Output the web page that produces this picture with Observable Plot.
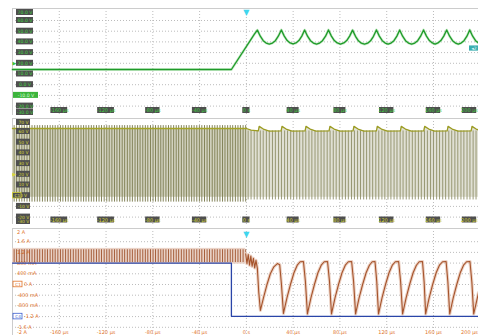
<!DOCTYPE html>
<html><head><meta charset="utf-8">
<script src="https://cdn.jsdelivr.net/npm/d3@7"></script>
<script src="https://cdn.jsdelivr.net/npm/@observablehq/plot@0.6"></script>
<style>
html,body{margin:0;padding:0;background:#fff;}
#wrap{position:relative;width:478px;height:335px;overflow:hidden;background:#fff;}
</style></head><body><div id="wrap"></div>
<script>
// ---------------- DATA ----------------
const xTicks = [-160, -120, -80, -40, 0, 40, 80, 120, 160, 200];
const xTickLabels = ["-160 µs","-120 µs","-80 µs","-40 µs","0 s","40 µs","80 µs","120 µs","160 µs","200 µs"];
const triggerTime = [0];

const vTicks1 = [70,60,50,40,30,20,10,0,-10,-20,-30];
const vLabels1 = ["70.0 V","60.0 V","50.0 V","40.0 V","30.0 V","20.0 V","10.0 V","0.0 V","-10.0 V","-20.0 V","-30.0 V"];
const vTicks2 = [70,60,50,40,30,20,10,0,-10,-20,-30];
const vLabels2 = ["70 V","60 V","50 V","40 V","30 V","20 V","10 V","0 V","-10 V","-20 V","-30 V"];
const iTicks = [2,1.6,1.2,0.8,0.4,0,-0.4,-0.8,-1.2,-1.6,-2];
const iLabels = ["2 A","1.6 A","1.2 A","800 mA","400 mA","0 A","-400 mA","-800 mA","-1.2 A","-1.6 A","-2 A"];

const offsetMarkV = [20];
const chMarksMid = [{ch:"C1", v:0}];
const chMarksBot = [{ch:"C1", v:0, color:"#e2742a"}, {ch:"C4", v:-1.2, color:"#3d5fd0"}];
const refMarkTop = [{t:196, v:33.8}];

// top channel: voltage (V) vs time (µs)
const greenTrace = [
[-200,14.2],[-12.8,14.2],[7.0,47.5],[9.4,51.0],
[11.9,45.3],[14.4,41.1],[16.9,38.9],[19.6,38.0],[22.3,38.9],[24.8,41.1],[27.3,45.3],[29.9,51.2],
[32.4,45.4],[34.9,41.2],[37.4,39.0],[39.9,38.1],[42.4,39.0],[44.9,41.2],[47.4,45.4],[49.8,51.1],
[52.3,45.3],[54.8,41.1],[57.3,38.9],[60.0,37.9],[62.6,38.9],[65.1,41.1],[67.7,45.3],[70.2,51.2],
[72.7,45.4],[75.2,41.2],[77.7,39.0],[80.5,38.0],[83.3,39.0],[85.8,41.2],[88.3,45.4],[90.8,51.0],
[93.3,45.2],[95.8,41.0],[98.3,38.8],[101.0,37.9],[103.7,38.8],[106.2,41.0],[108.7,45.2],[111.2,51.2],
[113.7,45.4],[116.2,41.1],[118.7,38.9],[121.2,38.0],[123.7,38.9],[126.2,41.1],[128.7,45.4],[131.1,51.1],
[133.6,45.3],[136.1,41.1],[138.6,38.9],[141.3,37.9],[144.0,38.9],[146.5,41.1],[149.0,45.3],[151.5,51.2],
[154.0,45.4],[156.5,41.2],[159.0,39.0],[161.4,38.0],[163.8,39.0],[166.3,41.2],[168.8,45.4],[171.3,51.1],
[173.8,45.3],[176.3,41.1],[178.8,38.9],[181.2,37.9],[183.6,38.9],[186.1,41.1],[188.6,45.3],[191.0,51.2],
[193.5,45.3],[196.0,41.1],[198.5,38.9]
];

// middle channel: switching edges (µs) and top level (V)
const pulsesL = [-198.6,-196.5,-194.2,-192.0,-189.9,-187.6,-185.4,-183.3,-181.0,-178.8,-176.7,-174.4,-172.2,-170.1,-167.8,-165.6,-163.5,-161.2,-159.0,-156.9,-154.6,-152.4,-150.3,-148.0,-145.8,-143.7,-141.4,-139.2,-137.1,-134.8,-132.6,-130.5,-128.2,-126.0,-123.9,-121.6,-119.4,-117.3,-115.0,-112.8,-110.7,-108.4,-106.2,-104.1,-101.8,-99.6,-97.5,-95.2,-93.0,-90.9,-88.6,-86.4,-84.3,-82.0,-79.8,-77.7,-75.4,-73.2,-71.1,-68.8,-66.6,-64.5,-62.2,-60.0,-57.9,-55.6,-53.4,-51.3,-49.0,-46.8,-44.7,-42.4,-40.2,-38.1,-35.8,-33.6,-31.5,-29.2,-27.0,-24.9,-22.6,-20.4,-18.3,-16.0,-13.8,-11.7,-9.4,-7.2,-5.1,-2.8,-0.6];
const pulsesR = [1.5,4.0,6.7,9.2,11.9,14.4,17.1,19.6,22.3,24.8,27.5,30.0,32.7,35.2,37.9,40.4,43.1,45.6,48.3,50.8,53.5,56.0,58.7,61.2,63.9,66.4,69.1,71.6,74.3,76.8,79.5,82.0,84.7,87.2,89.9,92.4,95.1,97.6,100.3,102.8,105.5,108.0,110.7,113.2,115.9,118.4,121.1,123.6,126.3,128.8,131.5,134.0,136.7,139.2,141.9,144.4,147.1,149.6,152.3,154.8,157.5,160.0,162.7,165.2,167.9,170.4,173.1,175.6,178.3,180.8,183.5,186.0,188.7,191.2,193.9,196.4];
const midTopLeft = [[-200,62.8],[0,62.8]];
const midTopRight = [[0,62.8],[4,61.2],[10.2,60.6],[11,64.8],[14.5,62.3],[19.5,60.4],[29.7,60.6],[30.5,64.8],[34,62.3],[39,60.4],[50.2,60.6],[51,64.8],[54.5,62.3],[59.5,60.4],[70.7,60.6],[71.5,64.8],[75,62.3],[80,60.4],[91.2,60.6],[92,64.8],[95.5,62.3],[100.5,60.4],[111.2,60.6],[112,64.8],[115.5,62.3],[120.5,60.4],[131.7,60.6],[132.5,64.8],[136,62.3],[141,60.4],[151.7,60.6],[152.5,64.8],[156,62.3],[161,60.4],[171.7,60.6],[172.5,64.8],[176,62.3],[181,60.4],[192.2,60.6],[193,64.8],[196.5,62.3],[198.5,61.5]];

// bottom: current (A)
const brownPost = [
[-0.6,1.15],[0.5,0.78],[1.6,1.12],[2.7,0.72],[3.8,1.06],[4.9,0.68],[6.0,0.98],[7.1,0.62],[8.2,0.9],[9.4,0.6],[10.6,-0.3],[12.0,-0.97],
[14.5,-0.52],[17.5,-0.02],[20.5,0.4],[23.5,0.66],[26.5,0.78],[28.5,0.74],[30.0,0.0],[31.7,-1.08],
[34.7,-0.5],[37.7,0.0],[40.7,0.44],[43.5,0.72],[46.0,0.85],[48.8,0.86],[50.5,0.1],[52.2,-1.1],
[55.2,-0.5],[58.2,0.0],[61.2,0.44],[64.0,0.72],[66.6,0.85],[69.4,0.86],[71.1,0.1],[72.8,-1.1],
[75.8,-0.5],[78.8,0.0],[81.8,0.44],[84.6,0.72],[87.2,0.85],[90.0,0.86],[91.7,0.1],[93.4,-1.1],
[96.4,-0.5],[99.4,0.0],[102.4,0.44],[105.2,0.72],[107.6,0.85],[110.0,0.86],[111.5,0.1],[113.0,-1.1],
[116.0,-0.5],[119.0,0.0],[122.0,0.44],[124.8,0.72],[127.4,0.85],[130.2,0.86],[131.9,0.1],[133.6,-1.1],
[136.6,-0.5],[139.6,0.0],[142.6,0.44],[145.4,0.72],[147.8,0.85],[150.6,0.86],[152.0,0.1],[153.3,-1.1],
[156.3,-0.5],[159.3,0.0],[162.3,0.44],[165.1,0.72],[167.8,0.85],[170.8,0.86],[172.3,0.1],[173.9,-1.1],
[176.9,-0.5],[179.9,0.0],[182.9,0.44],[185.7,0.72],[188.3,0.85],[191.2,0.86],[192.8,0.1],[194.4,-1.1],
[197.0,-0.6],[198.5,-0.3]
];
const rippleLo = 0.82, rippleHi = 1.3;
const blueTrace = [[-200,0.8],[-12.8,0.8],[-12.8,-1.19],[198.5,-1.19]];

// ---------------- DRAWING ----------------
const wrap = document.getElementById("wrap");
const XD = [-200, 198.5], W = 478, ML = 12;
const sx = d3.scaleLinear().domain(XD).range([ML, W]);
const tx = px => sx.invert(px);
const FONT = "DejaVu Sans, sans-serif";

function panel(o) {
  const sy = d3.scaleLinear().domain(o.yDomain).range([o.height, 0]);
  const pv = py => sy.invert(py);
  const per = (o.yDomain[1] - o.yDomain[0]) / o.height;
  const clampPy = py => Math.max(4, Math.min(o.height - 3, py));
  const gridVals = o.ticks.filter(v => sy(v) > 5 && sy(v) < o.height - 1);
  const yl = o.ticks.map((v, i) => ({v: pv(clampPy(sy(v))), text: o.tickLabels[i], raw: v}));
  const xl = xTicks.map((t, i) => ({t: Math.min(t, tx(W - 9)), text: xTickLabels[i]}));
  const ctx = {sy, pv, per, yl, xl};
  const marks = [
    Plot.ruleY(gridVals, {stroke: "#bcbcbc", strokeDasharray: "1,2"}),
    Plot.ruleX(xTicks.filter(t => t < XD[1]), {stroke: "#bcbcbc", strokeDasharray: "1,2"}),
    Plot.ruleY([o.yDomain[1]], {stroke: "#cccccc"}),
    Plot.ruleX([XD[0]], {stroke: "#cccccc"}),
    ...o.marks(ctx)
  ];
  const svg = Plot.plot({
    width: W, height: o.height,
    marginLeft: ML, marginRight: 0, marginTop: 0, marginBottom: 0,
    x: {domain: XD, axis: null},
    y: {domain: o.yDomain, axis: null},
    style: {background: "transparent", overflow: "visible", fontFamily: FONT},
    marks
  });
  svg.style.position = "absolute";
  svg.style.left = "0px";
  svg.style.top = o.top + "px";
  wrap.appendChild(svg);
}

function boxedX(ctx, pyC, boxFill, textFill) {
  const {pv, per, xl} = ctx;
  return [
    Plot.rect(xl, {x1: d => d.t - d.text.length * 1.2 / 1.1694, x2: d => d.t + d.text.length * 1.2 / 1.1694,
      y1: () => pv(pyC + 3), y2: () => pv(pyC - 3), fill: boxFill}),
    Plot.text(xl, {x: "t", y: () => pv(pyC), text: "text", fill: textFill, fontSize: 5, fontFamily: FONT})
  ];
}

// Top panel
panel({
  top: 8, height: 107, yDomain: [-28.79, 71.21], ticks: vTicks1, tickLabels: vLabels1,
  marks: ({pv, per, yl, xl}) => [
    Plot.line(greenTrace, {x: d => d[0], y: d => d[1], stroke: "#8fd88f", strokeWidth: 2.6, strokeOpacity: 0.5}),
    Plot.line(greenTrace, {x: d => d[0], y: d => d[1], stroke: "#1f9a2a", strokeWidth: 1.3}),
    Plot.rect(yl.filter(d => d.raw !== -10), {x1: () => tx(16), x2: () => tx(33), y1: d => d.v - 3 * per, y2: d => d.v + 3 * per, fill: "#4f4f4f"}),
    Plot.text(yl.filter(d => d.raw !== -10), {x: () => tx(24.5), y: "v", text: "text", fill: "#3fd03f", fontSize: 4.6, fontFamily: FONT}),
    Plot.rect(yl.filter(d => d.raw === -10), {x1: () => tx(13), x2: () => tx(38), y1: d => d.v - 3 * per, y2: d => d.v + 3 * per, fill: "#3cb43c"}),
    Plot.text(yl.filter(d => d.raw === -10), {x: () => tx(25.5), y: "v", text: "text", fill: "#d8ffd8", fontSize: 4.6, fontFamily: FONT}),
    Plot.text(offsetMarkV, {x: () => tx(14), y: d => d, text: () => "▶", fill: "#3cc43c", fontSize: 5}),
    ...boxedX({pv, per, xl}, 102, "#4f4f4f", "#3fd03f"),
    Plot.rect(refMarkTop, {x1: () => tx(469), x2: () => tx(478), y1: d => d.v - 2.6 * per, y2: d => d.v + 2.6 * per, fill: "#3aaeb0"}),
    Plot.text(refMarkTop, {x: () => tx(473.5), y: "v", text: () => "◂2", fill: "#e8ffff", fontSize: 4.5}),
    Plot.text(triggerTime, {x: d => d, y: () => pv(4), text: () => "▼", fill: "#3fd6ee", fontSize: 8})
  ]
});

// Middle panel
panel({
  top: 118, height: 106, yDomain: [-26.92, 72.15], ticks: vTicks2, tickLabels: vLabels2,
  marks: ({pv, per, yl, xl}) => [
    Plot.areaY(midTopLeft, {x: d => d[0], y1: () => -1.5, y2: d => d[1], fill: "#d2d2bf"}),
    Plot.areaY(midTopRight, {x: d => d[0], y1: () => -1.5, y2: d => d[1], fill: "#e0e0d4"}),
    Plot.ruleX(pulsesL, {x: d => d, y1: () => -6, y2: () => 65.5, stroke: "#84845a", strokeWidth: 1}),
    Plot.ruleX(pulsesR, {x: d => d, y1: () => -4, y2: () => 60.5, stroke: "#8e8e68", strokeWidth: 0.9}),
    Plot.line(midTopLeft, {x: d => d[0], y: d => d[1], stroke: "#a4a428", strokeWidth: 1.4}),
    Plot.line(midTopRight, {x: d => d[0], y: d => d[1], stroke: "#9c9c22", strokeWidth: 1.3}),
    Plot.rect(yl, {x1: () => tx(16), x2: () => tx(30), y1: d => d.v - 3 * per, y2: d => d.v + 3 * per, fill: "#4f4f4f"}),
    Plot.text(yl, {x: () => tx(23), y: "v", text: "text", fill: "#d6d63a", fontSize: 4.4, fontFamily: FONT}),
    Plot.rect(chMarksMid, {x1: () => tx(12.5), x2: () => tx(21), y1: d => d.v - 2.8 * per, y2: d => d.v + 2.8 * per, fill: "#4f4f4f", stroke: "#d6d63a", strokeWidth: 0.8}),
    Plot.text(chMarksMid, {x: () => tx(16.8), y: "v", text: "ch", fill: "#e8e860", fontSize: 4.2, fontFamily: FONT}),
    Plot.text(offsetMarkV, {x: () => tx(14), y: d => d, text: () => "▶", fill: "#d6d63a", fontSize: 5}),
    ...boxedX({pv, per, xl}, 101.5, "#4f4f4f", "#d6d63a")
  ]
});

// Bottom panel
const chVals = chMarksBot.map(d => d.v);
panel({
  top: 228, height: 107, yDomain: [-1.907, 2.093], ticks: iTicks, tickLabels: iLabels,
  marks: ({pv, per, yl, xl}) => [
    Plot.rect([pulsesL], {x1: () => XD[0], x2: d => d[d.length - 1], y1: () => rippleLo - 0.06, y2: () => rippleHi + 0.05, fill: "#ead3c8"}),
    Plot.text(yl, {x: d => chVals.includes(d.raw) ? tx(23.5) : tx(16.5), y: "v", text: "text", fill: "#e2742a", fontSize: 5, textAnchor: "start", fontFamily: FONT}),
    Plot.ruleX(pulsesL, {x: d => d, y1: () => rippleLo, y2: () => rippleHi, stroke: "#9a4a22", strokeWidth: 1, strokeOpacity: 0.85}),
    Plot.line(brownPost, {x: d => d[0], y: d => d[1], stroke: "#ecd2c5", strokeWidth: 3.2}),
    Plot.line(brownPost, {x: d => d[0], y: d => d[1], stroke: "#a5532b", strokeWidth: 1.1}),
    Plot.line(blueTrace, {x: d => d[0], y: d => d[1], stroke: "#2a45a8", strokeWidth: 1.3}),
    Plot.rect(chMarksBot, {x1: () => tx(13), x2: () => tx(22), y1: d => d.v - 2.8 * per, y2: d => d.v + 2.8 * per, fill: "#ffffff", stroke: d => d.color, strokeWidth: 0.8}),
    Plot.text(chMarksBot, {x: () => tx(17.5), y: "v", text: "ch", fill: d => d.color, fontSize: 4.2, fontFamily: FONT}),
    Plot.text(xl, {x: "t", y: () => pv(104), text: "text", fill: "#e2742a", fontSize: 5, fontFamily: FONT}),
    Plot.text(triggerTime, {x: d => d, y: () => pv(6), text: () => "▼", fill: "#3fd6ee", fontSize: 8})
  ]
});
</script></body></html>
